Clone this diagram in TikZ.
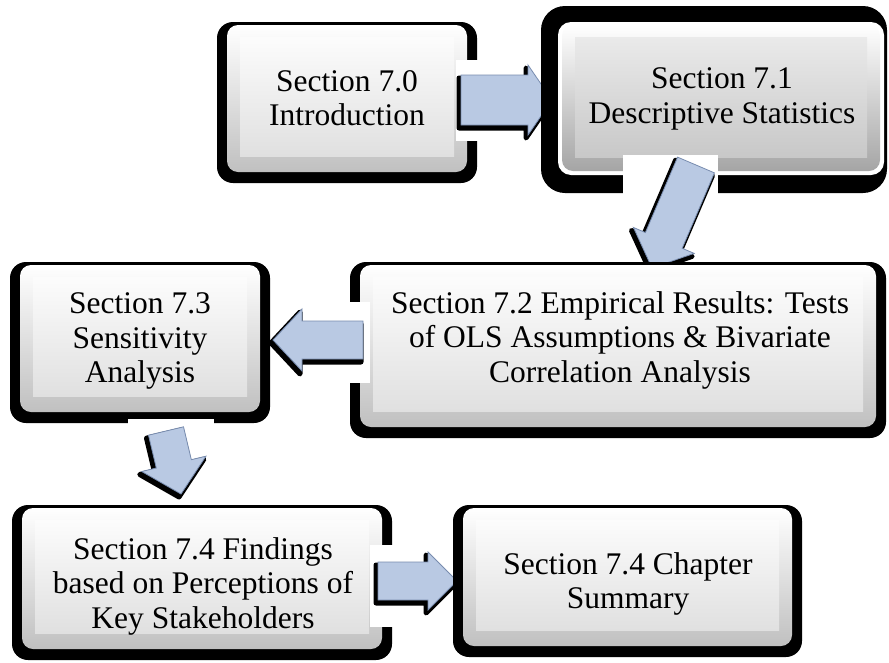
\documentclass[tikz,border=0pt]{standalone}
\usepackage{fontspec}
\setmainfont{Liberation Serif}
\usetikzlibrary{calc}

\definecolor{arrowblue}{RGB}{185,201,227}
\definecolor{arrowedge}{RGB}{120,140,175}
\definecolor{bandlow}{RGB}{192,192,192}
\definecolor{facetop}{RGB}{252,252,252}
\definecolor{facebot}{RGB}{224,224,224}
\definecolor{grayband}{RGB}{165,165,165}
\definecolor{grayface}{RGB}{234,234,234}
\definecolor{grayfacebot}{RGB}{200,200,200}

\tikzset{
  lbl/.style={align=center, font=\fontsize{31.5}{34.5}\selectfont, inner sep=0pt},
  arrowbody/.style={fill=arrowblue, draw=arrowedge, line width=0.8pt, line join=miter},
  arrowshade/.style={fill=black, draw=black, line width=5pt, line join=round},
  patch/.style={fill=white},
}

% bevelled box: black rim, lit band, flat face (outer corners x1,y1,x2,y2)
\newcommand\bevelbox[4]{%
  \fill[black, rounded corners=16pt] (#1,#2) rectangle (#3,#4);
  \shade[rounded corners=11pt, top color=white, bottom color=bandlow]
    (#1+10,#2+3) rectangle (#3-10,#4-11);
  \shade[top color=facetop, bottom color=facebot]
    (#1+23,#2+15) rectangle (#3-23,#4-27);
}

% block arrow from a named tail to a named tip
% #1 tag, #2 tail, #3 tip, #4 head length, #5 shaft half width, #6 head half width
\newcommand\blockarrow[6]{%
  \coordinate (#1hb) at ($(#3)!#4!(#2)$);
  \fill[arrowshade, transform canvas={shift={(-2pt,-3pt)}}]
    ($(#2)!#5!90:(#3)$) -- ($(#1hb)!#5!90:(#3)$) -- ($(#1hb)!#6!90:(#3)$) -- (#3)
    -- ($(#1hb)!#6!-90:(#3)$) -- ($(#1hb)!#5!-90:(#3)$) -- ($(#2)!#5!-90:(#3)$) -- cycle;
  \filldraw[arrowbody]
    ($(#2)!#5!90:(#3)$) -- ($(#1hb)!#5!90:(#3)$) -- ($(#1hb)!#6!90:(#3)$) -- (#3)
    -- ($(#1hb)!#6!-90:(#3)$) -- ($(#1hb)!#5!-90:(#3)$) -- ($(#2)!#5!-90:(#3)$) -- cycle;
}

\begin{document}
\begin{tikzpicture}[x=1pt, y=-1pt]
\useasboundingbox (0,0) rectangle (889,662);

% Section 7.0
\bevelbox{217}{22}{477}{183}
\node[lbl] (b1) at (347,98) {Section 7.0\\Introduction};

% 7.0 -> 7.1
\fill[patch] (456,60) rectangle (541,141);
\coordinate (a1s) at (461,100);
\coordinate (a1e) at (552,100);
\blockarrow{a1}{a1s}{a1e}{24pt}{25pt}{35pt}

% Section 7.1 (heavy frame)
\fill[black, rounded corners=24pt] (541,6) rectangle (887,193);
\fill[white, rounded corners=13pt] (558,22) rectangle (884,175);
\shade[rounded corners=11pt, top color=white, bottom color=grayband]
  (562,25) rectangle (880,171);
\shade[top color=grayface, bottom color=grayfacebot]
  (575,37) rectangle (867,157);
\node[lbl] (b2) at (722,99) {Section 7.1\\Descriptive Statistics};

% 7.1 -> 7.2
\fill[patch] (623,155) rectangle (718,262);
\coordinate (a2s) at (696,165);
\coordinate (a2e) at (652,268);
\blockarrow{a2}{a2s}{a2e}{30pt}{20pt}{33pt}

% Section 7.2
\bevelbox{350}{262}{886}{438}
\node[lbl] (b3) at (620,340) {Section 7.2 Empirical Results: Tests\\of OLS Assumptions \& Bivariate\\Correlation Analysis};

% 7.2 -> 7.3
\fill[patch] (265,302) rectangle (370,383);
\coordinate (a3s) at (363,340);
\coordinate (a3e) at (273,340);
\blockarrow{a3}{a3s}{a3e}{29pt}{19pt}{31pt}

% Section 7.3
\bevelbox{10}{262}{270}{423}
\node[lbl] (b4) at (140,341) {Section 7.3\\Sensitivity\\Analysis};

% 7.3 -> 7.4
\fill[patch] (128,419) rectangle (214,500);
\coordinate (a4s) at (166,431);
\coordinate (a4e) at (181,494);
\blockarrow{a4}{a4s}{a4e}{31pt}{18pt}{33pt}

% Section 7.4 Findings
\bevelbox{12}{505}{392}{660}
\node[lbl] (b5) at (203,586) {Section 7.4 Findings\\based on Perceptions of\\Key Stakeholders};

% 7.4 -> 7.4 summary
\fill[patch] (370,545) rectangle (453,627);
\coordinate (a5s) at (378,581);
\coordinate (a5e) at (457,581);
\blockarrow{a5}{a5s}{a5e}{29pt}{19pt}{29pt}

% Section 7.4 Chapter Summary
\bevelbox{453}{505}{802}{657}
\node[lbl] (b6) at (628,584) {Section 7.4 Chapter\\Summary};

\end{tikzpicture}
\end{document}
